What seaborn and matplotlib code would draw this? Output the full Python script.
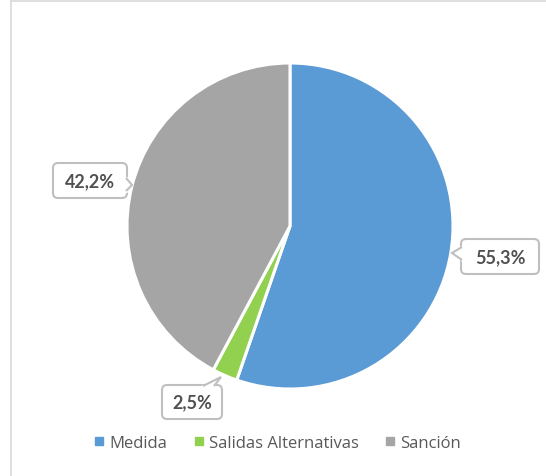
import matplotlib
matplotlib.use("Agg")
import matplotlib.pyplot as plt
import seaborn as sns
from matplotlib.patches import FancyBboxPatch, Polygon
from matplotlib.lines import Line2D

categories = ["Medida", "Salidas Alternativas", "Sanción"]
values = [55.3, 2.5, 42.2]
labels = ["55,3%", "2,5%", "42,2%"]
colors = ["#5B9BD5", "#92D050", "#A5A5A5"]

sns.set_theme(style="white")
plt.rcParams['font.family'] = ['Open Sans', 'DejaVu Sans']

W, H = 546, 477
fig = plt.figure(figsize=(W / 100, H / 100), dpi=100)
ax = fig.add_axes([0, 0, 1, 1])
ax.set_xlim(0, W)
ax.set_ylim(0, H)
ax.set_aspect("equal")
ax.axis("off")

# chart frame (only top and left edges are visible in the crop)
ax.add_line(Line2D([10.5, 10.5], [0, H - 1], color="#D9D9D9", lw=1.2))
ax.add_line(Line2D([10.5, W], [H - 1.5, H - 1.5], color="#D9D9D9", lw=1.2))

cx, cy, r = 290, H - 227, 163
wedges, _ = ax.pie(values, colors=colors, startangle=90, counterclock=False,
                   center=(cx, cy), radius=r,
                   wedgeprops=dict(edgecolor="white", linewidth=2.2))
ax.set_xlim(0, W)
ax.set_ylim(0, H)

# callout boxes: (box x0, y0 from top, width, height), pointer (base pts, tip)
callouts = {
    "55,3%": dict(box=(461, 240, 78, 35),
                  ptr=[(462, 248), (452, 254), (462, 261)]),
    "2,5%": dict(box=(162, 386, 60, 34),
                 ptr=[(203, 387), (221, 378), (214, 387)]),
    "42,2%": dict(box=(53, 164, 74, 35),
                  ptr=[(126, 179), (132, 186), (126, 192)]),
}
edge = "#BFBFBF"
for lab in labels:
    c = callouts[lab]
    x0, y0, w, h = c["box"]
    box = FancyBboxPatch((x0, H - y0 - h), w, h,
                         boxstyle="round,pad=0,rounding_size=5",
                         facecolor="white", edgecolor=edge, lw=1.5, zorder=5)
    ax.add_patch(box)
    pts = [(px, H - py) for px, py in c["ptr"]]
    ax.add_line(Line2D([pts[0][0], pts[2][0]], [pts[0][1], pts[2][1]],
                       color="white", lw=2.2, zorder=7))
    ax.add_patch(Polygon(pts, closed=True, facecolor="white",
                         edgecolor="none", zorder=7))
    ax.add_patch(Polygon(pts, closed=False, facecolor="none",
                         edgecolor=edge, lw=1.5, zorder=8))
    ax.text(x0 + w / 2, H - y0 - h / 2, lab, ha="center", va="center",
            fontsize=13, fontweight="bold", color="#505050", zorder=9,
            family=["Lato", "DejaVu Sans"])

handles = [plt.Line2D([], [], marker="s", ls="", color=col, markersize=6)
           for col in colors]
leg = ax.legend(handles, categories, loc="center", bbox_to_anchor=(276 / W, 1 - 444 / H),
                ncol=3, frameon=False, fontsize=12, handletextpad=0.1,
                columnspacing=1.4, handlelength=1.0,
                labelcolor="#595959")

fig.savefig("out.png", dpi=100)
